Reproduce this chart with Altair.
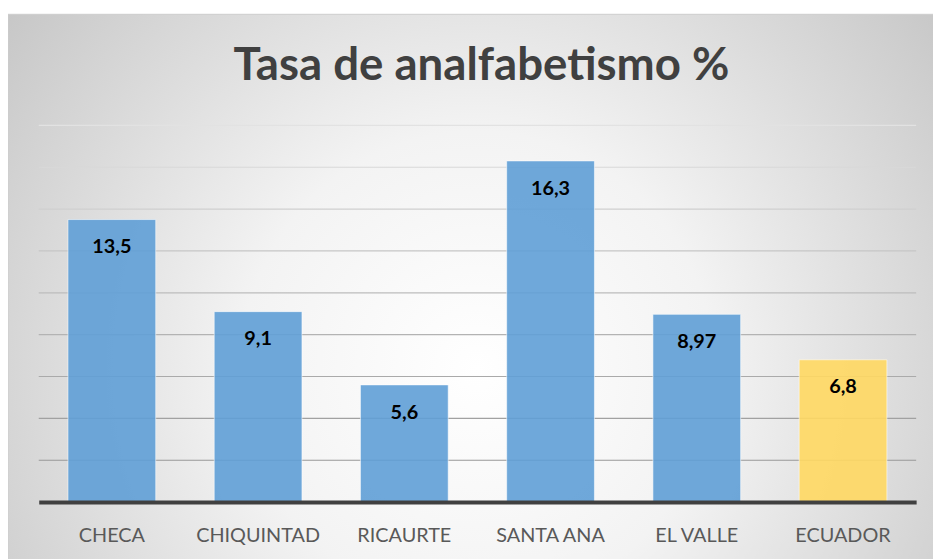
import altair as alt
import pandas as pd

# ---- data ----
categories = ["CHECA", "CHIQUINTAD", "RICAURTE", "SANTA ANA", "EL VALLE", "ECUADOR"]
values = [13.5, 9.1, 5.6, 16.3, 8.97, 6.8]
labels = ["13,5", "9,1", "5,6", "16,3", "8,97", "6,8"]
groups = ["canton", "canton", "canton", "canton", "canton", "pais"]
grid_ticks = [2, 4, 6, 8, 10, 12, 14, 16, 18]
title_text = "Tasa de analfabetismo %"

df = pd.DataFrame({"cat": categories, "val": values, "lab": labels, "grp": groups})
ticks_df = pd.DataFrame({"tick": grid_ticks})

W, H = 885, 380
PAD = {"left": 31, "top": 116, "right": 17, "bottom": 55}

x_enc = alt.X("cat:N", sort=categories,
              scale=alt.Scale(paddingInner=0.4, paddingOuter=0.2),
              axis=alt.Axis(title=None, labelAngle=0, labelFont="Lato", labelFontSize=20,
                            labelColor="#595959", labelPadding=24, ticks=False,
                            domainColor="#404040", domainWidth=4, zindex=1, grid=False))
y_scale = alt.Scale(domain=[0, 18], nice=False, zero=True)

bg = alt.Chart(alt.Data(values=[{}])).mark_rect(
    fill={"gradient": "radial", "x1": 0.5, "y1": 0.58, "r1": 0,
          "x2": 0.5, "y2": 0.58, "r2": 0.72,
          "stops": [{"offset": 0, "color": "#ffffff"},
                    {"offset": 0.35, "color": "#f3f3f3"},
                    {"offset": 1, "color": "#bcbcbc"}]},
    stroke="#cccccc", strokeWidth=1,
).encode(x=alt.value(-31), x2=alt.value(W + 30), y=alt.value(-112), y2=alt.value(H + 70))

grid = alt.Chart(ticks_df).mark_rule(strokeWidth=1.2).encode(
    y=alt.Y("tick:Q", scale=y_scale, axis=None),
    stroke=alt.Stroke("tick:Q", scale=alt.Scale(domain=[0, 18], range=["#8f8f8f", "#e2e2e2"]),
                      legend=None),
)

bars = alt.Chart(df).mark_bar(fillOpacity=0.9, stroke="#ffffff", strokeOpacity=0.55,
                              strokeWidth=1).encode(
    x=x_enc,
    y=alt.Y("val:Q", scale=y_scale, axis=None),
    color=alt.Color("grp:N", scale=alt.Scale(domain=["canton", "pais"],
                                             range=["#5f9ed6", "#ffd862"]), legend=None),
)

text = alt.Chart(df).mark_text(font="Lato", fontSize=20, fontWeight="bold", color="#000000",
                               baseline="middle", dy=28).encode(
    x=alt.X("cat:N", sort=categories),
    y=alt.Y("val:Q", scale=y_scale),
    text="lab:N",
)

chart = alt.layer(bg, grid, bars, text).resolve_scale(color="independent").properties(
    width=W, height=H,
    padding=PAD,
    autosize=alt.AutoSizeParams(type="none"),
    background="white",
    title=alt.Title(title_text, font="Lato", fontSize=46, fontWeight="bold", color="#404040",
                    anchor="middle", offset=-113, dx=4, baseline="alphabetic"),
).configure_view(stroke=None)

chart.save("out.html", embed_options={"renderer": "svg", "actions": False})
